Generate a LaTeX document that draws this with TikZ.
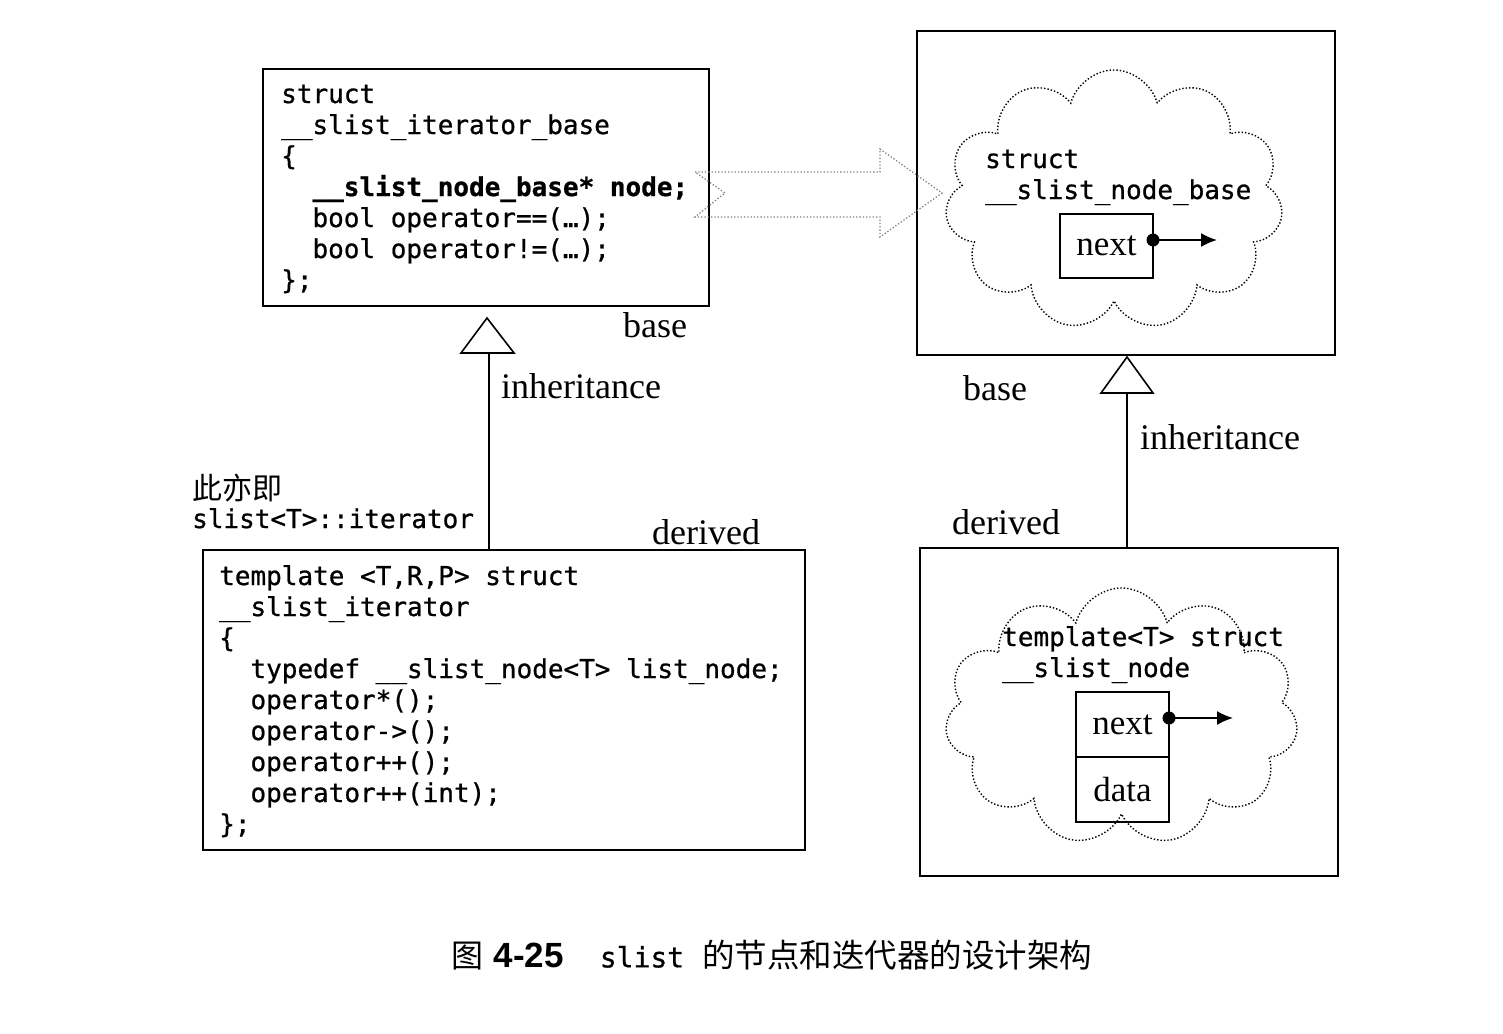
\documentclass[tikz,border=0pt]{standalone}
\usepackage{fontspec}
\setmainfont{Liberation Serif}
\newfontfamily\codefont[FakeBold=0.8]{DejaVu Sans Mono}
\newfontfamily\cjk{Noto Sans CJK SC}
\newfontfamily\capsans{Liberation Sans}
\usetikzlibrary{shapes.symbols,arrows.meta}
\begin{document}
\begin{tikzpicture}[x=1pt,y=-1pt,
  box/.style={draw, line width=1.6pt, inner sep=0pt},
  code/.style={font=\codefont\fontsize{26}{31}\selectfont, align=left, anchor=base west, inner sep=0pt},
  lbl/.style={font=\fontsize{36}{40}\selectfont, inner sep=0pt},
  cell/.style={draw, line width=1.6pt, inner sep=0pt, font=\fontsize{35}{40}\selectfont},
  puff/.style={cloud, cloud puffs=11, cloud ignores aspect, draw, dotted, line width=1.4pt, inner sep=0pt},
  tri/.style={draw, line width=1.6pt, fill=white},
  conn/.style={line width=1.6pt},
  ptr/.style={line width=1.6pt, -{Latex[length=16pt,width=14pt]}}
]
\useasboundingbox (0,0) rectangle (1503,1033);

% boxes
\node[box, minimum width=446pt, minimum height=237pt] (itb) at (486,187.5) {};
\node[box, minimum width=418pt, minimum height=324pt] (nbb) at (1126,193) {};
\node[box, minimum width=602pt, minimum height=300pt] (itd) at (504,700) {};
\node[box, minimum width=418pt, minimum height=328pt] (nbd) at (1129,712) {};

% clouds
\node[puff, minimum width=338pt, minimum height=260pt] (c1) at (1114,200) {};
\node[puff, minimum width=353pt, minimum height=257pt] (c2) at (1121.5,716.5) {};

% code in top-left box (anchor = baseline of last line)
\node[code] (t1) at (281,289) {struct\\
\_\_slist\_iterator\_base\\
\{\\
~~{\bfseries\_\_slist\_node\_base* node;}\\
~~bool operator==(…);\\
~~bool operator!=(…);\\
\};};

% code in bottom-left box
\node[code] (t2) at (219,833) {template <T,R,P> struct\\
\_\_slist\_iterator\\
\{\\
~~typedef \_\_slist\_node<T> list\_node;\\
~~operator*();\\
~~operator->();\\
~~operator++();\\
~~operator++(int);\\
\};};

% cloud texts
\node[code] (t3) at (985,199) {struct\\\_\_slist\_node\_base};
\node[code] (t4) at (1002,677) {template<T> struct\\\_\_slist\_node};

% note
\node[font=\cjk\fontsize{30}{32}\selectfont, anchor=west, inner sep=0pt] (note) at (192,488) {此亦即};
\node[code] (note2) at (192,528) {slist<T>::iterator};

% cells
\node[cell, minimum width=93pt, minimum height=64pt] (nx1) at (1106.5,246) {next};
\node[cell, minimum width=93pt, minimum height=65pt] (nx2) at (1122.5,724.5) {next};
\node[cell, minimum width=93pt, minimum height=65pt] (dt2) at (1122.5,789.5) {data};

% pointers
\coordinate (p1) at (1217,240);
\coordinate (p2) at (1233,718);
\fill (1153,240) circle (6.5pt);
\fill (1169,718) circle (6.5pt);
\draw[ptr] (1153,240) -- (p1);
\draw[ptr] (1169,718) -- (p2);

% labels
\node[lbl] (b1) at (655,325) {base};
\node[lbl] (i1) at (581,386) {inheritance};
\node[lbl] (d1) at (706,532) {derived};
\node[lbl] (b2) at (995,388) {base};
\node[lbl] (i2) at (1220,437) {inheritance};
\node[lbl] (d2) at (1006,522) {derived};

% inheritance connectors
\coordinate (h1) at (489,353);
\coordinate (h2) at (1127,393);
\draw[conn] (itd.north -| h1) -- (h1);
\draw[conn] (nbd.north -| h2) -- (h2);
\draw[tri] (461,353) -- (487,318) -- (514,353) -- cycle;
\draw[tri] (1101,393) -- (1127,357) -- (1153,393) -- cycle;

% hollow dotted arrow
\draw[dotted, line width=1.3pt, gray] (695,172) -- (880,172) -- (880,149) -- (942,193) -- (880,237) -- (880,217) -- (695,217) -- (725,193) -- cycle;

% caption
\node[inner sep=0pt] (cap) at (772,955) {{\cjk\fontsize{32}{34}\selectfont 图}\hspace{10pt}{\capsans\bfseries\fontsize{35}{36}\selectfont 4-25}\hspace{36pt}{\codefont\fontsize{28}{32}\selectfont slist}\hspace{18pt}{\cjk\fontsize{32.5}{34}\selectfont 的节点和迭代器的设计架构}};
\end{tikzpicture}
\end{document}
